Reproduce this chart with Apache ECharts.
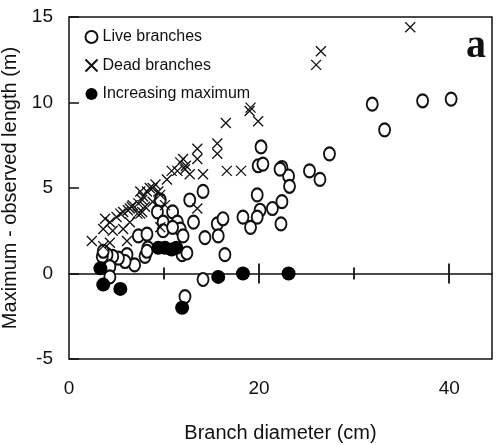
<!DOCTYPE html>
<html>
<head>
<meta charset="utf-8">
<script src="https://cdn.jsdelivr.net/npm/echarts/dist/echarts.min.js"></script>
<style>
	html, body { margin: 0; padding: 0; background: #fff; }
	#chart { width: 496px; height: 445px; }
</style>
</head>
<body>
<div id="chart"></div>
<script>
// 数据: [直径 cm, 最大值 - 观测长度 m]
var liveBranches = [
	[31.9, 9.9], [37.2, 10.1], [40.2, 10.2], [33.2, 8.4], [27.4, 7.0], [20.2, 7.4],
	[19.9, 6.3], [20.4, 6.4], [22.4, 6.2], [23.1, 5.7], [23.2, 5.1], [25.3, 6.0], [26.4, 5.5],
	[19.8, 4.6], [22.4, 4.2], [21.4, 3.8], [20.1, 3.7], [18.3, 3.3], [19.8, 3.3], [19.1, 2.7], [22.3, 2.9],
	[14.1, 4.8], [12.7, 4.3], [9.6, 4.3], [9.3, 3.6], [10.9, 3.6], [11.4, 3.0], [13.1, 3.0], [9.9, 3.0],
	[9.9, 2.5], [11.7, 2.6], [12.0, 2.2], [14.3, 2.1], [15.6, 2.9], [16.2, 3.2], [15.7, 2.2], [16.4, 1.1],
	[7.3, 2.2], [8.2, 2.3], [8.3, 1.5], [8.0, 1.0], [6.9, 0.5], [6.1, 1.1], [5.9, 0.7], [5.2, 0.9],
	[4.6, 1.0], [4.0, 1.1], [3.5, 1.0], [4.3, 0.4], [4.3, -0.2], [3.6, 1.3], [11.9, 1.1], [12.4, 1.2],
	[14.1, -0.35], [12.2, -1.35], [10.9, 2.7], [8.2, 1.3], [22.2, 6.1]
];
var deadBranches = [
	[35.9, 14.4], [26.5, 13.0], [26.0, 12.2], [19.0, 9.5], [19.1, 9.7], [19.9, 8.9],
	[16.5, 8.8], [15.6, 7.6], [15.6, 7.0], [13.5, 7.3], [13.5, 6.7], [12.0, 6.7], [12.2, 6.1], [11.7, 6.5],
	[12.7, 5.8], [14.1, 5.8], [16.6, 6.0], [18.1, 6.0], [10.8, 6.0], [10.3, 5.5], [11.4, 6.0],
	[9.1, 5.2], [8.5, 5.0], [8.2, 4.8], [7.8, 4.5], [7.3, 4.1], [6.4, 3.8], [5.7, 3.6], [5.0, 3.3],
	[4.3, 3.0], [3.6, 2.6], [2.4, 1.9], [4.6, 2.5], [5.7, 2.6], [6.7, 4.0], [7.5, 3.5], [9.6, 4.6],
	[13.5, 3.8], [6.1, 1.9], [3.8, 3.2], [9.6, 2.7], [8.8, 5.0], [9.4, 4.8], [7.5, 4.8], [6.4, 3.0],
	[7.2, 3.5], [7.7, 3.6], [8.0, 3.9], [8.8, 4.2], [10.1, 4.0], [3.6, 1.6], [4.3, 1.8], [6.2, 3.7],
	[5.4, 3.5], [6.6, 3.9], [7.7, 4.3], [12.3, 6.3]
];
var increasingMax = [
	[3.3, 0.3], [3.6, -0.65], [5.4, -0.9], [9.4, 1.5], [10.1, 1.5], [10.8, 1.4], [11.3, 1.5],
	[11.9, -2.0], [15.7, -0.2], [18.3, 0.0], [23.1, 0.0]
];
var seriesNames = ['Live branches', 'Dead branches', 'Increasing maximum'];
var xLabelTicks = [0, 20, 40];
var zeroMajorTicks = [20, 40];
var zeroMinorTicks = [10, 30];

var byId = function(id) {
	return document.getElementById(id);
};

var INK = '#111';
var FONT = 'Liberation Sans, Arial, sans-serif';
var X_MIN = 0, X_MAX = 44.5;

// 零线上的刻度 (上下两边)
function zeroAxis(ticks, inside, len, showLine) {
	return {
		type: 'value',
		min: X_MIN,
		max: X_MAX,
		position: 'bottom',
		axisLine: { show: showLine, onZero: true, onZeroAxisIndex: 0, lineStyle: { color: INK, width: 1.5 } },
		axisTick: { show: true, inside: inside, length: len, customValues: ticks, lineStyle: { color: INK, width: 1.8 } },
		axisLabel: { show: false },
		splitLine: { show: false }
	};
}

var crossPath = 'path://M0,0L10,10M10,0L0,10';

var option = {
	animation: false,
	backgroundColor: '#fff',
	grid: {
		left: 69,
		right: 4,
		top: 17,
		bottom: 86,
		outerBoundsMode: 'none',
		containLabel: false,
		show: true,
		borderColor: INK,
		borderWidth: 1.5
	},
	legend: {
		orient: 'vertical',
		left: 83,
		top: 29,
		padding: 0,
		itemWidth: 12,
		itemHeight: 13,
		itemGap: 12,
		textStyle: { fontSize: 16, color: INK, fontFamily: FONT },
		data: seriesNames
	},
	xAxis: [{
		type: 'value',
		min: X_MIN,
		max: X_MAX,
		name: 'Branch diameter (cm)',
		nameLocation: 'middle',
		nameGap: 64,
		nameTextStyle: { fontSize: 20, color: INK, fontFamily: FONT },
		axisLine: { show: false, onZero: false },
		axisTick: { show: false },
		axisLabel: { fontSize: 19, color: INK, fontFamily: FONT, margin: 20, customValues: xLabelTicks },
		splitLine: { show: false }
	},
		zeroAxis(zeroMajorTicks, true, 10, true),
		zeroAxis(zeroMajorTicks, false, 10, false),
		zeroAxis(zeroMinorTicks, true, 6, false),
		zeroAxis(zeroMinorTicks, false, 6, false)
	],
	yAxis: [{
		type: 'value',
		min: -5,
		max: 15,
		interval: 5,
		name: 'Maximum - observed length (m)',
		nameLocation: 'middle',
		nameGap: 44,
		nameTextStyle: { fontSize: 20, color: INK, fontFamily: FONT },
		axisLine: { show: false },
		axisTick: { show: true, inside: true, length: 10, lineStyle: { color: INK, width: 1.5 } },
		axisLabel: { fontSize: 19, color: INK, fontFamily: FONT, margin: 16 },
		splitLine: { show: false }
	}],
	graphic: [{
		type: 'text',
		left: 466,
		top: 27,
		style: {
			text: 'a',
			font: 'bold 40px "Liberation Serif", "Times New Roman", serif',
			fill: INK
		}
	}],
	series: [{
		name: seriesNames[0],
		type: 'scatter',
		symbol: 'emptyCircle',
		symbolSize: [11, 13],
		itemStyle: { color: INK, borderColor: INK, borderWidth: 1.5, opacity: 1 },
		data: liveBranches
	}, {
		name: seriesNames[1],
		type: 'scatter',
		symbol: crossPath,
		symbolSize: 10,
		itemStyle: { color: 'none', borderColor: INK, borderWidth: 1.3, opacity: 1 },
		data: deadBranches
	}, {
		name: seriesNames[2],
		type: 'scatter',
		symbol: 'circle',
		symbolSize: 14,
		itemStyle: { color: '#000', opacity: 1 },
		data: increasingMax
	}]
};

var chart = echarts.init(byId('chart'));
chart.setOption(option);
</script>
</body>
</html>
